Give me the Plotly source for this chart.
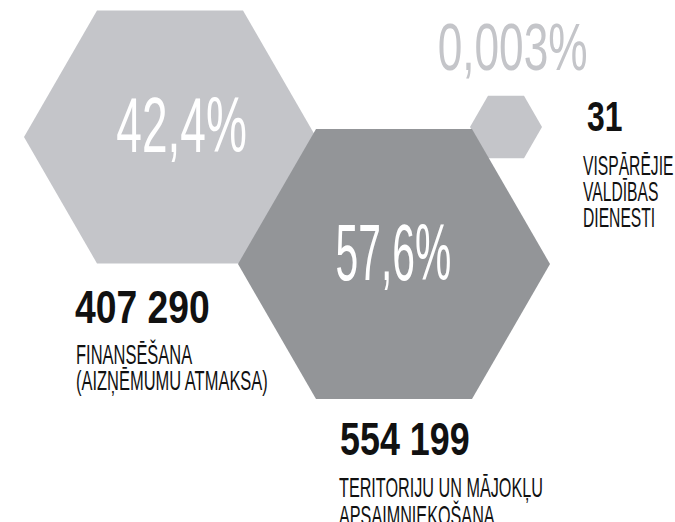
import json
import numpy as np
import plotly.graph_objects as go

# ---- data ----
categories = ["FINANSĒŠANA<br>(AIZŅĒMUMU ATMAKSA)",
              "TERITORIJU UN MĀJOKĻU<br>APSAIMNIEKOŠANA",
              "VISPĀRĒJIE<br>VALDĪBAS<br>DIENESTI"]
amounts = ["407 290", "554 199", "31"]
shares = ["42,4%", "57,6%", "0,003%"]

# ---- layout / style ----
W, H = 675, 522
hex_centers = [(170, 137), (394, 264), (506, 127)]
hex_sides = [146, 156, 36]
hex_colors = ["#c4c5c9", "#939598", "#c4c5c9"]
draw_order = [0, 2, 1]

FONT = "Liberation Sans, Arial, sans-serif"

fig = go.Figure()

def hexagon(cx, cy, s):
    ang = np.deg2rad(np.arange(0, 361, 60))
    return cx + s * np.cos(ang), cy + s * np.sin(ang)

for i in draw_order:
    (cx, cy), s = hex_centers[i], hex_sides[i]
    xs, ys = hexagon(cx, cy, s)
    fig.add_trace(go.Scatter(x=xs, y=ys, mode="lines", fill="toself",
                             fillcolor=hex_colors[i], line=dict(width=0),
                             hoverinfo="skip", showlegend=False))

scales, origins = [], []

# share labels (x center, y, colour, size, horizontal squeeze)
share_pos = [(181, 125, "white", 78, 0.59),
             (393, 252, "white", 80, 0.51),
             (512, 46, "#c4c5c9", 67, 0.66)]
for txt, (x, y, col, sz, k) in zip(shares, share_pos):
    fig.add_annotation(x=x, y=y, text=txt, showarrow=False, xanchor="center",
                       yanchor="middle", font=dict(family=FONT, size=sz, color=col))
    scales.append(k); origins.append("center center")

# amounts
amount_pos = [(73, 307, 46, 0.81), (338, 439, 46, 0.78), (585, 116, 42, 0.76)]
for txt, (x, y, sz, k) in zip(amounts, amount_pos):
    fig.add_annotation(x=x, y=y, text="<b>" + txt + "</b>", showarrow=False,
                       xanchor="left", yanchor="middle",
                       font=dict(family=FONT, size=sz, color="#111111"))
    scales.append(k); origins.append("left center")

# category labels, one annotation per line (x left, first-line y, line gap, squeeze)
cat_pos = [(74, 354, 26.5, 0.61), (337, 488, 27.5, 0.60), (581, 166, 26, 0.58)]
for txt, (x, y0, gap, k) in zip(categories, cat_pos):
    for j, line in enumerate(txt.split("<br>")):
        fig.add_annotation(x=x, y=y0 + j * gap, text=line, showarrow=False,
                           xanchor="left", yanchor="middle", align="left",
                           font=dict(family=FONT, size=27, color="#111111"))
        scales.append(k); origins.append("left center")

fig.update_xaxes(range=[0, W], visible=False, fixedrange=True)
fig.update_yaxes(range=[H, 0], visible=False, fixedrange=True)
fig.update_layout(width=W, height=H, margin=dict(l=0, r=0, t=0, b=0),
                  paper_bgcolor="white", plot_bgcolor="white", showlegend=False)

# condensed look: squeeze annotation text horizontally (text stays real text)
post = """
document.body.style.margin = '0';
document.body.style.padding = '0';
var gd = document.getElementById('{plot_id}');
var SC = %s, OR = %s;
function squeeze(){
  gd.querySelectorAll('g.annotation').forEach(function(g){
    var i = +g.getAttribute('data-index');
    var t = g.querySelector('text.annotation-text');
    if(!t || SC[i] === undefined) return;
    t.style.transformBox = 'fill-box';
    t.style.transformOrigin = OR[i];
    t.style.transform = 'scaleX(' + SC[i] + ')';
  });
}
squeeze();
gd.on('plotly_afterplot', squeeze);
""" % (json.dumps(scales), json.dumps(origins))

fig.write_html("out.html", post_script=post, config={"staticPlot": True})
